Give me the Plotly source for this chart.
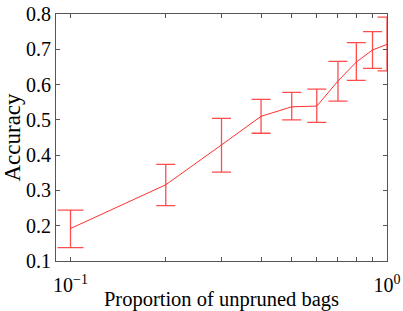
import plotly.graph_objects as go

props = [0.1, 0.2, 0.3, 0.4, 0.5, 0.6, 0.7, 0.8, 0.9, 1.0]
acc = [0.192, 0.316, 0.429, 0.510, 0.537, 0.539, 0.610, 0.664, 0.698, 0.714]
upper = [0.244, 0.374, 0.504, 0.558, 0.578, 0.587, 0.666, 0.719, 0.750, 0.791]
lower = [0.138, 0.257, 0.352, 0.462, 0.500, 0.493, 0.553, 0.612, 0.646, 0.639]

err_plus = [u - a for u, a in zip(upper, acc)]
err_minus = [a - l for a, l in zip(acc, lower)]

red = "#ff4d4d"
fig = go.Figure()
fig.add_trace(go.Scatter(
    x=props[:1], y=acc[:1], mode="markers", marker=dict(size=0.1, color=red),
    error_y=dict(type="data", symmetric=False, array=err_plus[:1], arrayminus=err_minus[:1],
                 color=red, thickness=1.3, width=13),
    showlegend=False, hoverinfo="skip"))
fig.add_trace(go.Scatter(
    x=props[1:], y=acc[1:], mode="markers", marker=dict(size=0.1, color=red),
    error_y=dict(type="data", symmetric=False, array=err_plus[1:], arrayminus=err_minus[1:],
                 color=red, thickness=1.3, width=9.5),
    showlegend=False, hoverinfo="skip"))
fig.add_trace(go.Scatter(
    x=props, y=acc, mode="lines", line=dict(color="#ff3030", width=1),
    showlegend=False))

ticktext = ["10<sup>\u22121</sup>"] + [""] * 8 + ["10<sup>0</sup>"]

fam = "Liberation Serif, Times New Roman, serif"
tickfont = dict(family=fam, size=20, color="black")
fig.update_layout(
    width=403, height=311,
    margin=dict(l=56, r=16, t=14, b=50, autoexpand=False),
    plot_bgcolor="white", paper_bgcolor="white",
    font=dict(family=fam, size=17, color="black"),
    xaxis=dict(type="log", range=[-1.0458, 0], tickvals=props, ticktext=ticktext,
               ticks="inside", ticklen=4, tickcolor="#555", showgrid=False, zeroline=False,
               showline=True, linecolor="#555", linewidth=1, mirror="ticks",
               automargin=False, ticklabelstandoff=6,
               title=dict(text="Proportion of unpruned bags", standoff=0,
                          font=dict(family=fam, size=20.5, color="black")),
               tickfont=tickfont),
    yaxis=dict(range=[0.1, 0.8], dtick=0.1, tickformat=".1f",
               ticks="inside", ticklen=4, tickcolor="#555", showgrid=False, zeroline=False,
               showline=True, linecolor="#555", linewidth=1, mirror="ticks",
               automargin=False,
               title=dict(text="Accuracy", standoff=3,
                          font=dict(family=fam, size=23, color="black")),
               tickfont=tickfont),
)
fig.write_html("out.html", config={"displayModeBar": False},
               post_script="document.body.style.margin='0';")
